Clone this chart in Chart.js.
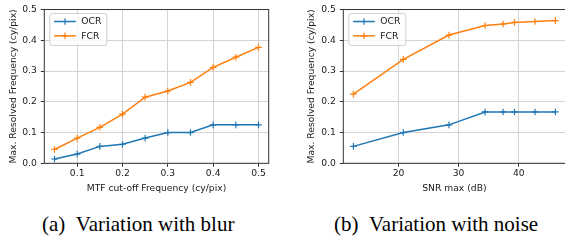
<!DOCTYPE html>
<html>
<head>
<meta charset="utf-8">
<script src="https://cdn.jsdelivr.net/npm/chart.js@4"></script>
<style>
  html, body { margin: 0; padding: 0; width: 565px; height: 241px; overflow: hidden; background: #fff; }
  canvas { position: absolute; top: 0; }
  #blurChart { left: 0; }
  #noiseChart { left: 280px; }
  .cap { position: absolute; top: 214px; font-family: "Liberation Serif", "Times New Roman", serif; font-size: 21px; line-height: 21px; color: #000; white-space: pre; }
</style>
</head>
<body>
<canvas id="blurChart" width="280" height="200"></canvas>
<canvas id="noiseChart" width="290" height="200"></canvas>
<div class="cap" style="left:42px">(a)&ensp;Variation with blur</div>
<div class="cap" style="left:334px">(b)&ensp;Variation with noise</div>
<script>
// =========================
// DATA
// =========================
const blurCutoff = [0.05, 0.1, 0.15, 0.2, 0.25, 0.3, 0.35, 0.4, 0.45, 0.5];
const blurOCR = [0.014, 0.03, 0.055, 0.062, 0.082, 0.1, 0.1, 0.125, 0.125, 0.125];
const blurFCR = [0.045, 0.082, 0.117, 0.16, 0.215, 0.235, 0.263, 0.312, 0.345, 0.377];

const snrMax = [12.5, 20.8, 28.4, 34.4, 37.4, 39.3, 42.7, 46.1];
const noiseOCR = [0.055, 0.1, 0.125, 0.167, 0.167, 0.167, 0.167, 0.167];
const noiseFCR = [0.225, 0.338, 0.417, 0.448, 0.453, 0.458, 0.461, 0.464];

const blurTicks = [0.1, 0.2, 0.3, 0.4, 0.5];
const snrTicks = [20, 30, 40];
const freqTicks = [0, 0.1, 0.2, 0.3, 0.4, 0.5];

const BLUE = "#1f77b4";
const ORANGE = "#ff7f0e";
const TEXT = "#1a1a1a";
const FONT = { family: "DejaVu Sans", size: 9.2 };

function series(label, xs, ys, color) {
    return {
        label,
        data: xs.map((x, i) => ({ x, y: ys[i] })),
        borderColor: color,
        backgroundColor: color,
        borderWidth: 1.5,
        pointStyle: "cross",
        pointRadius: 3.3,
        pointHoverRadius: 3.3,
        pointBorderWidth: 1.2,
        tension: 0,
        fill: false
    };
}

// =========================
// FRAME + LEGEND BOX (matplotlib look)
// =========================
const boxPlugin = {
    id: "mplBox",
    afterDatasetsDraw(chart) {
        const { ctx, chartArea: a } = chart;
        ctx.save();
        ctx.strokeStyle = "#333";
        ctx.lineWidth = 1;
        ctx.strokeRect(a.left, a.top, a.right - a.left, a.bottom - a.top);

        const lx = a.left + 5.5, ly = a.top + 4, lw = 57, lh = 32;
        ctx.beginPath();
        ctx.roundRect(lx, ly, lw, lh, 2.5);
        ctx.fillStyle = "rgba(255,255,255,0.8)";
        ctx.fill();
        ctx.strokeStyle = "#d0d0d0";
        ctx.stroke();

        chart.data.datasets.forEach((ds, i) => {
            const y = ly + 8 + i * 14.3;
            const cx = lx + 15.2;
            ctx.strokeStyle = ds.borderColor;
            ctx.lineWidth = 1.5;
            ctx.beginPath();
            ctx.moveTo(lx + 4.3, y);
            ctx.lineTo(lx + 26, y);
            ctx.stroke();
            ctx.lineWidth = 1.2;
            ctx.beginPath();
            ctx.moveTo(cx - 3.3, y); ctx.lineTo(cx + 3.3, y);
            ctx.moveTo(cx, y - 3.3); ctx.lineTo(cx, y + 3.3);
            ctx.stroke();
            ctx.fillStyle = TEXT;
            ctx.font = "9.2px 'DejaVu Sans'";
            ctx.textBaseline = "middle";
            ctx.fillText(ds.label, lx + 31.5, y + 0.5);
        });
        ctx.restore();
    }
};

const gridStyle = { color: "#d4d4d4", lineWidth: 1, tickLength: 3.5, tickColor: "#333", tickWidth: 1 };

function makeChart(id, cfg) {
    return new Chart(document.getElementById(id), {
        type: "line",
        data: {
            datasets: [
                series("OCR", cfg.xs, cfg.ocr, BLUE),
                series("FCR", cfg.xs, cfg.fcr, ORANGE)
            ]
        },
        options: {
            responsive: false,
            animation: false,
            devicePixelRatio: 1,
            layout: { padding: cfg.padding },
            plugins: { legend: { display: false }, tooltip: { enabled: false } },
            scales: {
                x: {
                    type: "linear",
                    min: cfg.xMin,
                    max: cfg.xMax,
                    afterBuildTicks: s => { s.ticks = cfg.xTicks.map(v => ({ value: v })); },
                    afterFit: s => { s.height = 36.7; },
                    ticks: { font: FONT, color: TEXT, padding: 1.5, maxRotation: 0, minRotation: 0, autoSkip: false, callback: cfg.xFmt },
                    grid: gridStyle,
                    border: { display: false },
                    title: { display: true, text: cfg.xTitle, font: FONT, color: TEXT, padding: { top: 0, bottom: 5.5 } }
                },
                y: {
                    type: "linear",
                    min: 0,
                    max: 0.5,
                    afterBuildTicks: s => { s.ticks = freqTicks.map(v => ({ value: v })); },
                    afterFit: s => { s.width = cfg.yWidth; },
                    ticks: { font: FONT, color: TEXT, padding: 4, autoSkip: false, callback: v => v.toFixed(1) },
                    grid: gridStyle,
                    border: { display: false },
                    title: { display: true, text: "Max. Resolved Frequency (cy/pix)", font: FONT, color: TEXT, padding: { top: cfg.yTitlePad, bottom: 0 } }
                }
            }
        },
        plugins: [boxPlugin]
    });
}

makeChart("blurChart", {
    xs: blurCutoff, ocr: blurOCR, fcr: blurFCR,
    xMin: 0.0275, xMax: 0.5225, xTicks: blurTicks,
    xFmt: v => v.toFixed(1),
    xTitle: "MTF cut-off Frequency (cy/pix)",
    padding: { left: 0, top: 8, right: 11.3, bottom: 0 },
    yWidth: 44.3, yTitlePad: 8.5
});

makeChart("noiseChart", {
    xs: snrMax, ocr: noiseOCR, fcr: noiseFCR,
    xMin: 10.82, xMax: 47.78, xTicks: snrTicks,
    xFmt: v => String(v),
    xTitle: "SNR max (dB)",
    padding: { left: 0, top: 8, right: 1.3, bottom: 0 },
    yWidth: 63.3, yTitlePad: 26.2
});
</script>
</body>
</html>
